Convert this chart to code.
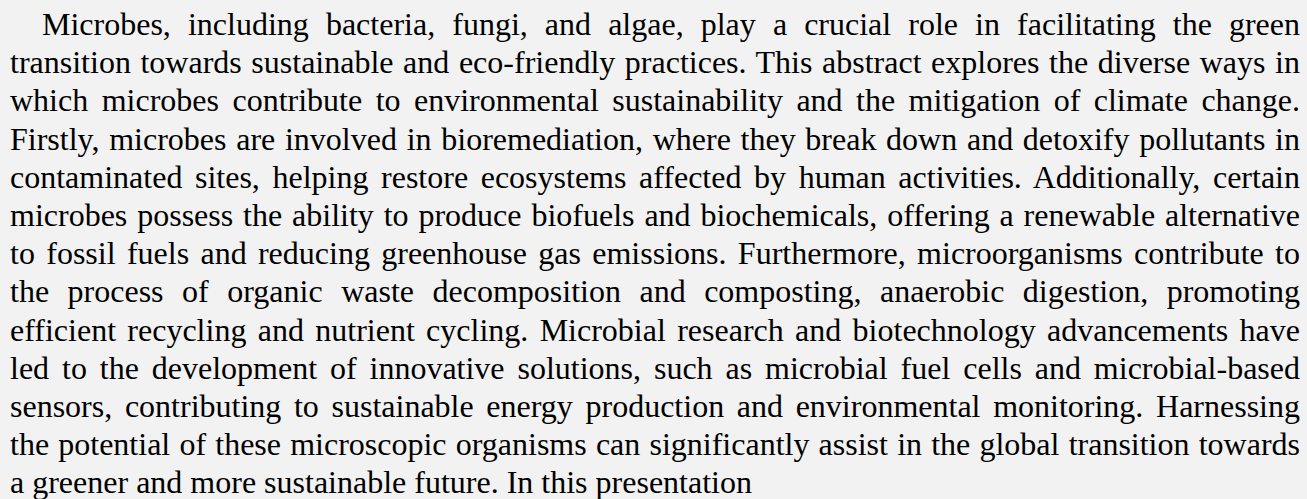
<!DOCTYPE html>
<html>
<head>
<meta charset="utf-8">
<script src="https://cdn.jsdelivr.net/npm/chart.js@4"></script>
<style>
  html, body { margin: 0; padding: 0; background: #f2f2f2; }
  body { width: 1307px; height: 499px; overflow: hidden; }
  #abstract {
    position: absolute; left: 10px; top: 5px; width: 1290px;
    font-family: "Liberation Serif", "Times New Roman", serif;
    font-size: 32px; line-height: 38.2px; color: #000;
  }
  #abstract .ln { white-space: nowrap; }
  #abstract .ln span { display: inline-block; }
</style>
</head>
<body>
<div id="abstract"></div>
<script>
// paragraph lines, as broken in the reference
const lines = [
  'Microbes, including bacteria, fungi, and algae, play a crucial role in facilitating the green',
  'transition towards sustainable and eco-friendly practices. This abstract explores the diverse ways in',
  'which microbes contribute to environmental sustainability and the mitigation of climate change.',
  'Firstly, microbes are involved in bioremediation, where they break down and detoxify pollutants in',
  'contaminated sites, helping restore ecosystems affected by human activities. Additionally, certain',
  'microbes possess the ability to produce biofuels and biochemicals, offering a renewable alternative',
  'to fossil fuels and reducing greenhouse gas emissions. Furthermore, microorganisms contribute to',
  'the process of organic waste decomposition and composting, anaerobic digestion, promoting',
  'efficient recycling and nutrient cycling. Microbial research and biotechnology advancements have',
  'led to the development of innovative solutions, such as microbial fuel cells and microbial-based',
  'sensors, contributing to sustainable energy production and environmental monitoring. Harnessing',
  'the potential of these microscopic organisms can significantly assist in the global transition towards',
  'a greener and more sustainable future. In this presentation'
];
const indent = 32;

const box = document.getElementById('abstract');
const boxW = box.clientWidth;
lines.forEach((t, i) => {
  const d = document.createElement('div');
  d.className = 'ln';
  const s = document.createElement('span');
  s.textContent = t;
  d.appendChild(s);
  box.appendChild(d);
  if (i === 0) s.style.marginLeft = indent + 'px';
  // justify every line but the last by spreading the word gaps
  if (i < lines.length - 1) {
    const avail = boxW - (i === 0 ? indent : 0);
    const gaps = t.split(' ').length - 1;
    const extra = (avail - s.getBoundingClientRect().width) / gaps;
    s.style.wordSpacing = extra + 'px';
  }
});
</script>
</body>
</html>
